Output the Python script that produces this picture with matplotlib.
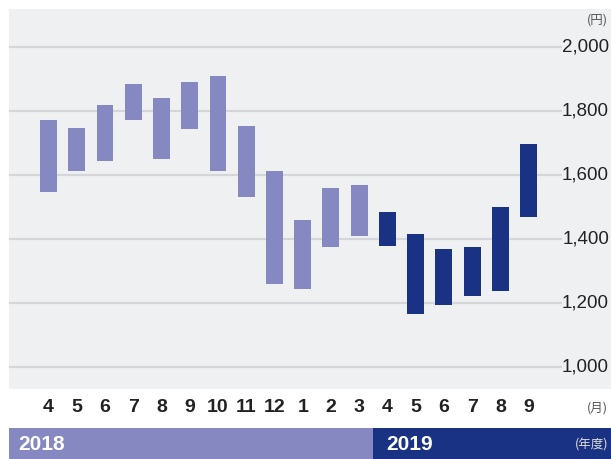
import matplotlib
matplotlib.use("Agg")
import matplotlib.pyplot as plt
from matplotlib.patches import Rectangle
from matplotlib.transforms import blended_transform_factory

months = ["4", "5", "6", "7", "8", "9", "10", "11", "12", "1", "2", "3",
          "4", "5", "6", "7", "8", "9"]
highs = [1773, 1748, 1820, 1885, 1842, 1892, 1908, 1754, 1613, 1458, 1558, 1568,
         1483, 1415, 1368, 1374, 1499, 1697]
lows = [1546, 1611, 1642, 1771, 1649, 1743, 1611, 1530, 1259, 1244, 1375, 1409,
        1378, 1166, 1194, 1222, 1237, 1469]
fiscal_year = ["2018"] * 12 + ["2019"] * 6
yticks = [1000, 1200, 1400, 1600, 1800, 2000]
ytick_labels = ["1,000", "1,200", "1,400", "1,600", "1,800", "2,000"]

c2018 = "#8688c1"
c2019 = "#1a3283"
bg = "#eff0f2"
fam = ["Liberation Sans Narrow", "Liberation Sans", "Noto Sans CJK JP", "DejaVu Sans"]
jfam = ["Noto Sans CJK JP", "DejaVu Sans"]

W, H = 611, 459
fig = plt.figure(figsize=(W / 100, H / 100), dpi=100)
fig.patch.set_facecolor("white")

def fx(px):
    return px / W

def fy(py):
    return 1 - py / H

# background panel
fig.add_artist(Rectangle((fx(9), fy(389)), fx(611) - fx(9), fy(9) - fy(389),
                         transform=fig.transFigure, facecolor=bg, edgecolor="none", zorder=0))
# fiscal year banner
fig.add_artist(Rectangle((fx(9), fy(459)), fx(373) - fx(9), fy(428) - fy(459),
                         transform=fig.transFigure, facecolor=c2018, edgecolor="none", zorder=0))
fig.add_artist(Rectangle((fx(373), fy(459)), fx(611) - fx(373), fy(428) - fy(459),
                         transform=fig.transFigure, facecolor=c2019, edgecolor="none", zorder=0))

ax = fig.add_axes([fx(9), fy(389), fx(562) - fx(9), fy(9) - fy(389)])
ax.set_facecolor("none")
for s in ax.spines.values():
    s.set_visible(False)

x = list(range(len(months)))
colors = [c2018 if fy_ == "2018" else c2019 for fy_ in fiscal_year]
heights = [h - l for h, l in zip(highs, lows)]
ax.bar(x, heights, bottom=lows, width=0.6, color=colors, zorder=3)

for t in yticks:
    ax.axhline(t, color="#d5d6d9", linewidth=1.6, zorder=1)

ax.set_xlim(-1.399, 18.18)
ax.set_ylim(930, 2119)
ax.set_xticks([])
ax.set_yticks([])

# y tick labels on right
for t, lab in zip(yticks, ytick_labels):
    ypx = 366.7 - (t - 1000) * 0.3197
    fig.text(fx(609), fy(ypx), lab, ha="right", va="center", fontsize=13.5,
             family=fam, color="#222222")

# month labels
trans = blended_transform_factory(ax.transData, fig.transFigure)
for i, m in enumerate(months):
    ax.text(i, fy(408), m, transform=trans, ha="center", va="center", fontsize=14,
            fontweight="bold", family=fam, color="#222222", clip_on=False)

fig.text(fx(608), fy(20), "(円)", ha="right", va="center", fontsize=9, family=jfam, color="#555555")
fig.text(fx(608), fy(408), "(月)", ha="right", va="center", fontsize=9, family=jfam, color="#555555")
fig.text(fx(608), fy(445), "(年度)", ha="right", va="center", fontsize=9, family=jfam, color="#dddddd")

fig.text(fx(18), fy(444), "2018", ha="left", va="center", fontsize=15, fontweight="bold",
         family=fam, color="white")
fig.text(fx(386), fy(444), "2019", ha="left", va="center", fontsize=15, fontweight="bold",
         family=fam, color="white")

fig.savefig("out.png", dpi=100, facecolor=fig.get_facecolor())
